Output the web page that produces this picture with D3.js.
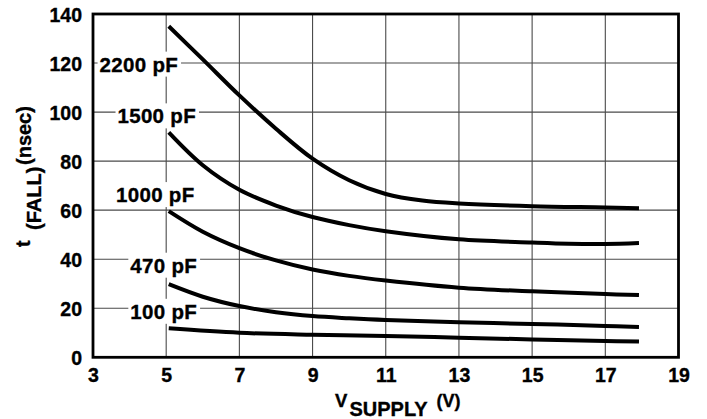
<!DOCTYPE html>
<html>
<head>
<meta charset="utf-8">
<script src="https://cdn.jsdelivr.net/npm/d3@7"></script>
<style>
  html, body { margin: 0; padding: 0; background: #fff; }
  svg { display: block; font-family: "Liberation Sans", Arial, Helvetica, sans-serif; font-weight: bold; }
  text { stroke: #000; stroke-width: 0.35px; fill: #000; }
</style>
</head>
<body>
<svg id="chart" width="707" height="419"></svg>
<script>
// ---- data ----
const xTicks = [3, 5, 7, 9, 11, 13, 15, 17, 19];
const yTicks = [0, 20, 40, 60, 80, 100, 120, 140];
const seriesNames = ["2200 pF", "1500 pF", "1000 pF", "470 pF", "100 pF"];
const s2200 = [[5.07,135],[6,121.5],[7,106.8],[8,93.2],[9,81.0],[10,72.2],[11,66.6],[12,63.9],[13,62.7],[15,61.6],[17,61.1],[17.92,60.8]];
const s1500 = [[5.07,91.7],[6,78.3],[7,68.3],[8,61.9],[9,57.2],[10,53.9],[11,51.4],[13,48.1],[15,46.8],[16,46.3],[17,46.2],[17.92,46.6]];
const s1000 = [[5.07,59.6],[6,51.2],[7,44.5],[8,39.5],[9,35.8],[10,33.2],[11,31.3],[13,28.4],[15,26.9],[17,25.8],[17.92,25.4]];
const s470  = [[5.07,29.8],[6,24.7],[7,20.9],[8,18.4],[9,16.8],[10,15.9],[11,15.2],[13,14.3],[15,13.6],[17,12.8],[17.92,12.4]];
const s100  = [[5.07,11.8],[7,10.0],[9,9.2],[11,8.7],[13,8.0],[15,7.3],[17,6.6],[17.92,6.4]];
const seriesData = [s2200, s1500, s1000, s470, s100];
// label anchor (left x in volts, baseline value in nsec)
const labelPos = [[3.18, 116.5], [3.67, 95.4], [3.63, 63.3], [4.02, 34.5], [4.02, 15.7]];

// ---- layout ----
const svg = d3.select("#chart");
const L = 93, R = 678.5, T = 14, B = 357.3;
const x = d3.scaleLinear().domain([3, 19]).range([L, R]);
const y = d3.scaleLinear().domain([0, 140]).range([B, T]);

// grid
const grid = svg.append("g");
grid.selectAll("line.v").data(xTicks.slice(1, -1)).join("line")
  .attr("x1", d => x(d)).attr("x2", d => x(d)).attr("y1", T).attr("y2", B)
  .attr("stroke", "#4a4a4a").attr("stroke-width", 1.1);
grid.selectAll("line.h").data(yTicks.slice(1, -1)).join("line")
  .attr("x1", L).attr("x2", R).attr("y1", d => y(d)).attr("y2", d => y(d))
  .attr("stroke", "#4a4a4a").attr("stroke-width", 1.1);

// labels with white boxes
const labG = svg.append("g");
seriesNames.forEach((name, i) => {
  const t = labG.append("text")
    .attr("x", x(labelPos[i][0])).attr("y", y(labelPos[i][1]))
    .attr("font-size", 20.5).attr("letter-spacing", 0.3).text(name);
  const bb = t.node().getBBox();
  labG.insert("rect", "text")
    .attr("x", bb.x - 2).attr("y", bb.y - 1).attr("width", bb.width + 5).attr("height", bb.height + 2)
    .attr("fill", "#fff").attr("stroke", "none");
});

// curves
const line = d3.line().x(d => x(d[0])).y(d => y(d[1])).curve(d3.curveCatmullRom.alpha(0.5));
svg.append("g").selectAll("path").data(seriesData).join("path")
  .attr("d", line).attr("fill", "none").attr("stroke", "#000").attr("stroke-width", 4);

// frame
svg.append("rect").attr("x", L).attr("y", T).attr("width", R - L).attr("height", B - T)
  .attr("fill", "none").attr("stroke", "#000").attr("stroke-width", 2.8);

// axes tick labels
const xAxis = d3.axisBottom(x).tickValues(xTicks).tickSize(0).tickPadding(0).tickFormat(d3.format("d"));
const gx = svg.append("g").attr("transform", `translate(0,${B})`).call(xAxis);
gx.select(".domain").remove();
gx.selectAll("text").attr("font-size", 19.5).attr("font-family", null).attr("fill", "#000").attr("dy", null).attr("y", 25);

const yAxis = d3.axisLeft(y).tickValues(yTicks).tickSize(0).tickPadding(0).tickFormat(d3.format("d"));
const gy = svg.append("g").attr("transform", `translate(${L},0)`).call(yAxis);
gy.select(".domain").remove();
gy.selectAll("text").attr("font-size", 19.5).attr("font-family", null).attr("fill", "#000").attr("x", -11).attr("dy", "0.36em");

// x title
const xt = svg.append("g");
xt.append("text").attr("x", 335).attr("y", 407).attr("font-size", 18.5).text("V");
xt.append("text").attr("x", 349.5).attr("y", 415.5).attr("font-size", 20).text("SUPPLY");
xt.append("text").attr("x", 436.5).attr("y", 406.5).attr("font-size", 18).text("(V)");

// y title
const yt = svg.append("g").attr("transform", "translate(30,247) rotate(-90)");
yt.append("text").attr("x", 0).attr("y", 0).attr("font-size", 19.5).text("t");
yt.append("text").attr("x", 17).attr("y", 11).attr("font-size", 20).text("(FALL)");
yt.append("text").attr("x", 82).attr("y", 1).attr("font-size", 20).text("(nsec)");
</script>
</body>
</html>
